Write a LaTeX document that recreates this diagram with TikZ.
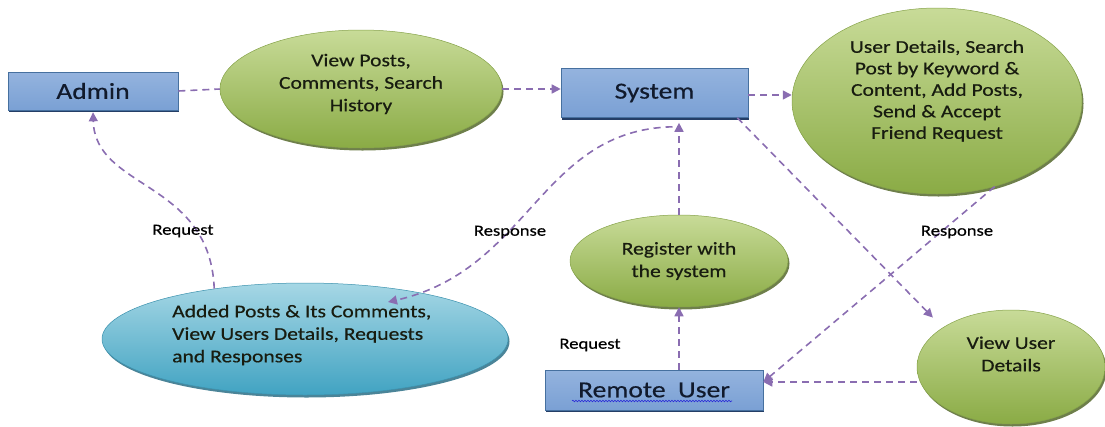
\documentclass[tikz,border=0pt]{standalone}
\usepackage{fontspec}
\setmainfont{Carlito}[FakeStretch=1.2, FakeBold=0.5]
\usetikzlibrary{shapes.geometric,arrows.meta,shadows,decorations.pathmorphing}

\definecolor{flow}{HTML}{8A6DB1}
\definecolor{boxtop}{HTML}{94B3DE}
\definecolor{boxmid}{HTML}{5584C4}
\definecolor{boxbot}{HTML}{7AA0D4}
\definecolor{boxedge}{HTML}{46709F}
\definecolor{boxshadow}{HTML}{243E66}
\definecolor{boxtext}{HTML}{111A2C}
\definecolor{greentop}{HTML}{C8DB98}
\definecolor{greenbot}{HTML}{8AAB45}
\definecolor{greenedge}{HTML}{86A34A}
\definecolor{greenshadow}{HTML}{55682C}
\definecolor{tealtop}{HTML}{A6D7E5}
\definecolor{tealbot}{HTML}{41A3C2}
\definecolor{tealedge}{HTML}{3C92AE}
\definecolor{tealshadow}{HTML}{2B6F86}
\definecolor{inktext}{HTML}{181C10}
\definecolor{spell}{HTML}{2A2AD8}

\begin{document}
\begin{tikzpicture}[x=1pt,y=-1pt,
  entity/.style={rectangle, draw=boxedge, line width=0.6pt,
    top color=boxtop, middle color=boxmid, bottom color=boxbot,
    drop shadow={shadow xshift=0.6pt, shadow yshift=-2.4pt, fill=boxshadow, opacity=1},
    inner sep=0pt, text=boxtext, font=\fontsize{23}{27}\selectfont},
  process/.style={ellipse, draw=greenedge, line width=0.5pt, inner sep=0pt,
    top color=greentop, bottom color=greenbot,
    drop shadow={shadow xshift=1.5pt, shadow yshift=-2.5pt, fill=greenshadow, opacity=0.85}},
  store/.style={ellipse, draw=tealedge, line width=0.5pt, inner sep=0pt,
    top color=tealtop, bottom color=tealbot,
    drop shadow={shadow xshift=1.5pt, shadow yshift=-2.5pt, fill=tealshadow, opacity=0.85}},
  ptext/.style={align=center, inner sep=0pt, text=inktext,
    font=\fontsize{18}{22.5}\selectfont},
  flowline/.style={draw=flow, line width=1.6pt, dash pattern=on 7pt off 5pt},
  arr/.style={flowline, -{Triangle[length=9pt,width=9pt]}},
  lbl/.style={inner sep=0pt, text=black, font=\fontsize{15.5}{18}\selectfont}]

\useasboundingbox (0,0) rectangle (1105,426);

% external entities and system
\node[entity, minimum width=170pt, minimum height=38pt] (admin) at (93,91) {Admin};
\node[entity, minimum width=187pt, minimum height=49pt] (sys) at (654.5,93) {System};
\node[entity, minimum width=218pt, minimum height=40pt] (ru) at (654,390) {Remote\ \ User};

% processes
\node[process, minimum width=282pt, minimum height=118pt] (vp) at (361,89) {};
\node[ptext] (vpt) at (361,84) {View Posts,\\Comments, Search\\History};

\node[process, minimum width=290pt, minimum height=186pt] (ud) at (937,101) {};
\node[ptext, font=\fontsize{18}{21.5}\selectfont] (udt) at (937,91)
  {User Details, Search\\Post by Keyword \&\\Content, Add Posts,\\Send \& Accept\\Friend Request};

\node[store, minimum width=406pt, minimum height=112pt] (ap) at (305,339) {};
\node[ptext, align=left, anchor=west] (apt) at (172,335)
  {Added Posts \& Its Comments,\\View Users Details, Requests\\and Responses};

\node[process, minimum width=218pt, minimum height=92pt] (rg) at (679,261) {};
\node[ptext] (rgt) at (679,261) {Register with\\the system};

\node[process, minimum width=188pt, minimum height=114pt] (vu) at (1011,367) {};
\node[ptext] (vut) at (1011,354) {View User\\Details};

% spelling underline under the remote user caption
\draw[spell, line width=0.6pt, decorate,
  decoration={snake, amplitude=0.8pt, segment length=3pt}] (572,401) -- (732,401);

% data flows
\draw[flowline] (admin.east) -- (vp.west);
\draw[arr] (vp.east) -- (vp.east -| sys.west);
\draw[arr] ([yshift=-2pt]sys.east) -- ([yshift=-2pt]sys.east -| ud.west);
\draw[arr, shorten >=14pt] ([xshift=-11pt]sys.south east) -- (vu.150);
\draw[arr] (ud.-56) -- ([yshift=8pt]ru.east);
\draw[arr] ([yshift=-15pt]vu.west) -- ([yshift=8pt]ru.east);
\draw[arr] (rg.south |- ru.north) -- (rg.south);
\draw[arr, shorten >=5pt] (rg.north) -- (rg.north |- sys.south);
\draw[arr] ([xshift=18pt,yshift=-9pt]sys.south)
  .. controls (540,130) and (530,270) .. ([xshift=83pt,yshift=37pt]ap.center);
\draw[arr, shorten >=2pt] (ap.151.5)
  .. controls (210,180) and (95,190) .. (admin.south);

% flow labels
\node[lbl] (lreq1) at (183,231) {Request};
\node[lbl] (lres1) at (510,232) {Response};
\node[lbl] (lres2) at (957,232) {Response};
\node[lbl] (lreq2) at (590,345) {Request};

\end{tikzpicture}
\end{document}
